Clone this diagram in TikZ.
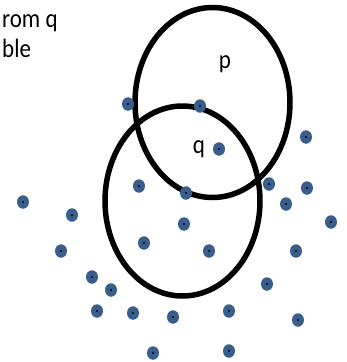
\documentclass[tikz,border=0pt]{standalone}
\usepackage{fontspec}
\setmainfont{Carlito}
\usetikzlibrary{shapes.geometric}
\definecolor{dotblue}{RGB}{58,94,140}
\newcommand{\tall}[1]{\scalebox{1}[1.15]{#1}}

\begin{document}
\begin{tikzpicture}[x=1pt,y=-1pt,
  zone/.style={draw=black, ellipse, line width=5.5pt, minimum width=155pt, minimum height=190pt, inner sep=0pt},
  pt/.style={ellipse, fill=dotblue, minimum width=12pt, minimum height=13.5pt, inner sep=0pt,
    path picture={\fill[black] (path picture bounding box.center) circle (1.1pt);}},
  lbl/.style={font=\fontsize{23}{27}\selectfont, anchor=base, inner sep=0pt}]
\useasboundingbox (0,0) rectangle (346,362);
\node[lbl, anchor=base west] (txtA) at (2,27) {\tall{rom q}};
\node[lbl, anchor=base west] (txtB) at (2,57) {\tall{ble}};
\node[zone] (p) at (212.5,102.5) {};
\node[zone] (q) at (182.5,201) {};
\node[lbl] (plbl) at (225,68) {\tall{p}};
\node[lbl] (qlbl) at (199,153) {\tall{q}};
\node[pt] (d1) at (23,202) {};
\node[pt] (d2) at (72,215) {};
\node[pt] (d3) at (61,251) {};
\node[pt] (d4) at (92,277) {};
\node[pt] (d5) at (111,290) {};
\node[pt] (d6) at (97,311) {};
\node[pt] (d7) at (133,313) {};
\node[pt] (d8) at (173,317) {};
\node[pt] (d9) at (153,353) {};
\node[pt] (d10) at (229,311) {};
\node[pt] (d11) at (229,351) {};
\node[pt] (d12) at (298,320) {};
\node[pt] (d13) at (267,284) {};
\node[pt] (d14) at (296,251) {};
\node[pt] (d15) at (331,222) {};
\node[pt] (d16) at (286,204) {};
\node[pt] (d17) at (307,188) {};
\node[pt] (d18) at (269,184) {};
\node[pt] (d19) at (139,186) {};
\node[pt] (d20) at (186,193) {};
\node[pt] (d21) at (184,224) {};
\node[pt] (d22) at (144,243) {};
\node[pt] (d23) at (209,251) {};
\node[pt] (d24) at (128,104) {};
\node[pt] (d25) at (200,106) {};
\node[pt] (d26) at (219,149) {};
\node[pt] (d27) at (306,137) {};
\end{tikzpicture}
\end{document}
